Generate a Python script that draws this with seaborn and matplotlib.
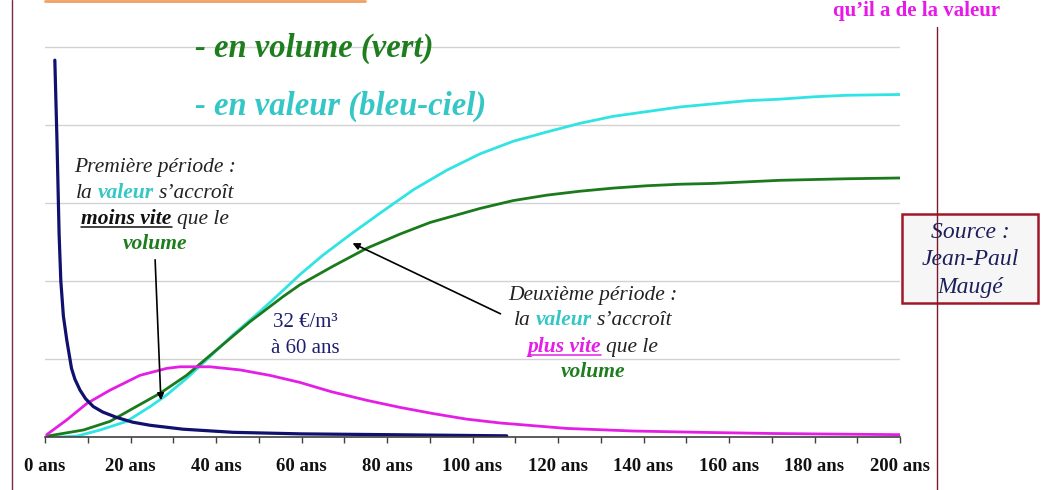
import matplotlib
matplotlib.use("Agg")
import matplotlib.pyplot as plt
from matplotlib.lines import Line2D
from matplotlib.patches import Rectangle
from matplotlib.transforms import IdentityTransform
import seaborn as sns

# Données (âge en années, unités de la grille)
navy_years = [2.3, 2.8, 3.3, 3.7, 4.3, 5.1, 6.2, 7.0, 8.2, 9.5, 11.3, 13.5, 16.8, 20.5, 24.6,
              32.3, 44, 60, 80, 108]
navy_vals = [4.83, 3.8, 2.6, 2.0, 1.55, 1.24, 0.88, 0.74, 0.60, 0.49, 0.39, 0.32, 0.25, 0.19,
             0.15, 0.10, 0.06, 0.04, 0.03, 0.015]

magenta_years = [0.4, 5.1, 9.8, 15.2, 22.2, 28.5, 31.6, 38.6, 45.6, 52.6, 59.6, 67.0, 75.3, 83.0,
                 90.8, 98.5, 106.4, 122, 137.5, 153, 170, 185, 200]
magenta_vals = [0.03, 0.22, 0.43, 0.60, 0.79, 0.88, 0.90, 0.90, 0.86, 0.79, 0.70, 0.58, 0.47, 0.38,
                0.30, 0.23, 0.18, 0.11, 0.077, 0.06, 0.045, 0.037, 0.03]

green_years = [0.4, 9.0, 15.2, 20.7, 26.9, 33.1, 40.2, 48.0, 55.7, 59.6, 67.4, 75.3, 83.0, 90.1,
               101.8, 109.5, 117.4, 125.1, 132.9, 140.7, 148.5, 156.3, 164.1, 171.9, 179.7,
               187.6, 200]
green_vals = [0.01, 0.09, 0.20, 0.37, 0.56, 0.79, 1.12, 1.48, 1.80, 1.95, 2.19, 2.42, 2.60, 2.75,
              2.93, 3.03, 3.10, 3.15, 3.19, 3.22, 3.24, 3.25, 3.27, 3.29, 3.30, 3.31, 3.32]

cyan_years = [3.0, 7.4, 12.9, 19.1, 24.6, 28.5, 33.1, 37.8, 44.0, 50.3, 55.7, 59.6, 65.0, 71.3,
              78.4, 86.2, 94.0, 101.8, 109.5, 117.4, 125.1, 132.9, 140.7, 148.5, 156.3, 164.1,
              171.9, 179.7, 187.6, 200]
cyan_vals = [0.0, 0.01, 0.09, 0.20, 0.39, 0.54, 0.75, 0.99, 1.31, 1.61, 1.88, 2.08, 2.33, 2.59,
             2.87, 3.17, 3.42, 3.63, 3.79, 3.91, 4.02, 4.11, 4.17, 4.23, 4.27, 4.31, 4.33,
             4.36, 4.38, 4.39]

tick_years = list(range(0, 201, 20))
tick_labels = [f"{v} ans" for v in tick_years]

W, H = 1064, 490
SERIF = ["Liberation Serif", "DejaVu Serif"]

sns.set_theme(style="white")
plt.rcParams["font.family"] = SERIF

NAVY = "#10106e"
MAGENTA = "#e41ee4"
GREEN = "#1b7a1b"
CYAN = "#30e4e4"
CYAN_TXT = "#35c6c6"
GREEN_TXT = "#1e7e1e"

fig = plt.figure(figsize=(W / 100, H / 100), dpi=100)
fig.patch.set_facecolor("white")
ax = fig.add_axes([45 / W, (H - 437) / H, 855 / W, 394 / H])

sns.lineplot(x=cyan_years, y=cyan_vals, color=CYAN, lw=2.0, ax=ax, estimator=None)
sns.lineplot(x=green_years, y=green_vals, color=GREEN, lw=2.0, ax=ax, estimator=None)
sns.lineplot(x=magenta_years, y=magenta_vals, color=MAGENTA, lw=2.0, ax=ax, estimator=None)
sns.lineplot(x=navy_years, y=navy_vals, color=NAVY, lw=2.3, ax=ax, estimator=None)

ax.set_xlim(0, 200)
ax.set_ylim(0, 5.05)
ax.set_yticks([1, 2, 3, 4, 5])
ax.set_yticklabels([])
ax.yaxis.grid(True, color="#d2d2d2", lw=1.0)
ax.set_axisbelow(True)
ax.tick_params(axis="y", length=0)

ax.set_xticks(tick_years)
ax.set_xticklabels(tick_labels, fontsize=13.5, fontweight="bold", color="#111111")
ax.set_xticks(range(0, 201, 10), minor=True)
ax.tick_params(axis="x", which="both", direction="out", length=4, width=1,
               color="#404040", bottom=True)
ax.tick_params(axis="x", which="major", pad=11)
for side in ["top", "right", "left"]:
    ax.spines[side].set_visible(False)
ax.spines["bottom"].set_color("#404040")
ax.spines["bottom"].set_linewidth(1.2)

ident = IdentityTransform()


def px(x, y):
    return x, H - y


renderer = fig.canvas.get_renderer()


def rich_line(cx, cy, segments, size, base_style="italic"):
    # segments : (texte, couleur, gras, souligné)
    space = fig.text(0, 0, "x x", fontsize=size, style=base_style, transform=ident)
    nospace = fig.text(0, 0, "xx", fontsize=size, style=base_style, transform=ident)
    sp = space.get_window_extent(renderer).width - nospace.get_window_extent(renderer).width
    space.remove()
    nospace.remove()
    items = []
    total = 0
    for i, (s, color, bold, ul) in enumerate(segments):
        t = fig.text(0, 0, s, fontsize=size, style=base_style, color=color,
                     fontweight="bold" if bold else "normal", transform=ident,
                     va="baseline", ha="left")
        w = t.get_window_extent(renderer).width
        items.append((t, w, ul, color))
        total += w + (sp if i < len(segments) - 1 else 0)
    x = cx - total / 2
    xb, yb = px(0, cy)
    for t, w, ul, color in items:
        t.set_position((x, yb))
        if ul:
            fig.add_artist(Line2D([x, x + w], [yb - 3, yb - 3], color=color, lw=1.1,
                                  transform=ident))
        x += w + sp


DARK = "#222222"
fs = 15.5
# Première période
rich_line(155, 172, [("Première période :", DARK, False, False)], fs)
rich_line(155, 198, [("la", DARK, False, False), ("valeur", CYAN_TXT, True, False),
                     ("s’accroît", DARK, False, False)], fs)
rich_line(155, 224, [("moins vite", "#111111", True, True), ("que le", DARK, False, False)], fs)
rich_line(155, 249, [("volume", GREEN_TXT, True, False)], fs)

# Deuxième période
rich_line(593, 300, [("Deuxième période :", DARK, False, False)], fs)
rich_line(593, 325, [("la", DARK, False, False), ("valeur", CYAN_TXT, True, False),
                     ("s’accroît", DARK, False, False)], fs)
rich_line(593, 352, [("plus vite", MAGENTA, True, True), ("que le", DARK, False, False)], fs)
rich_line(593, 377, [("volume", GREEN_TXT, True, False)], fs)

# Titres des courbes
fig.text(*px(195, 57), "- en volume (vert)", transform=ident, fontsize=23.5,
         style="italic", fontweight="bold", color=GREEN_TXT, va="baseline")
fig.text(*px(195, 115), "- en valeur (bleu-ciel)", transform=ident, fontsize=23.5,
         style="italic", fontweight="bold", color=CYAN_TXT, va="baseline")

# Prix au m3
fig.text(*px(305, 322), "32 €/m³", transform=ident, fontsize=15, color="#1e1e70",
         ha="center", va="center")
fig.text(*px(305, 348), "à 60 ans", transform=ident, fontsize=15, color="#1e1e70",
         ha="center", va="center")

# Flèches
ax.annotate("", xy=px(161, 403), xytext=px(155, 257), xycoords=ident, textcoords=ident,
            arrowprops=dict(arrowstyle="-|>", color="black", lw=1.2, mutation_scale=10))
ax.annotate("", xy=px(350, 242), xytext=px(503, 315), xycoords=ident, textcoords=ident,
            arrowprops=dict(arrowstyle="-|>", color="black", lw=1.2, mutation_scale=10))

# Cadre de la diapositive
fig.add_artist(Line2D([12, 12], [0, H], color="#7a2a40", lw=1.0, transform=ident))
fig.add_artist(Line2D([937, 937], [0, H - 27], color="#7a1a2a", lw=1.0, transform=ident))
fig.add_artist(Line2D([45, 365], [H - 1, H - 1], color="#f0a060", lw=2.0, transform=ident))
fig.text(*px(917, 16), "qu’il a de la valeur", transform=ident, fontsize=15,
         fontweight="bold", color="#e619e6", ha="center", va="baseline")

# Encadré source
fig.add_artist(Rectangle(px(902, 303), 136, 89, transform=ident, facecolor="#f6f6f6",
                         edgecolor="#a01828", lw=1.8))
for txt, yy in [("Source :", 232), ("Jean-Paul", 259), ("Maugé", 287)]:
    fig.text(*px(970, yy), txt, transform=ident, fontsize=17, style="italic",
             color="#1e1e5a", ha="center", va="center")

fig.savefig("out.png", dpi=100)
